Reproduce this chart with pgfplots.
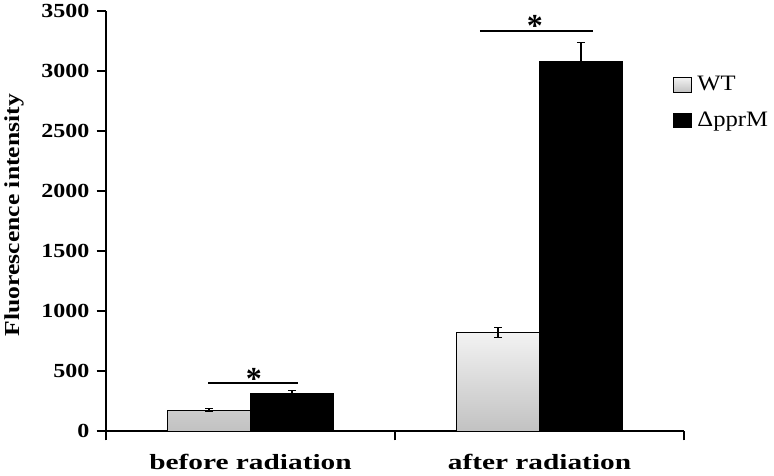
\documentclass[border=0pt]{standalone}
\usepackage{fontspec}
\setmainfont{Liberation Serif}
\newfontfamily\widefont{Liberation Serif}[FakeStretch=1.35]
\newfontfamily\tickfont{Liberation Serif}[FakeStretch=1.2]
\newfontfamily\legfont{Liberation Serif}[FakeStretch=1.12]
\usepackage{pgfplots}
\pgfplotsset{compat=1.18}

\pgfplotsset{
  sqlegend/.style={legend image code/.code={
    \draw[##1, draw=black, line width=0.6pt] (0pt,-5.5pt) rectangle (13.5pt,5.5pt);}},
}

\begin{document}
\begin{tikzpicture}
\begin{axis}[
    scale only axis,
    width=433.5pt, height=315pt,
    ybar=0pt, bar width=0.287,
    xmin=-0.5, xmax=1.5,
    ymin=0, ymax=3500,
    axis lines*=left,
    axis line style={line width=1.5pt},
    tick align=outside,
    major tick length=7pt,
    tick style={line width=1.5pt, black},
    xtick={-0.5,0.5,1.5}, xticklabels={},
    extra x ticks={0,1},
    extra x tick labels={before radiation, after radiation},
    extra x tick style={tick style={draw=none}},
    ytick={0,500,...,3500},
    /pgf/number format/assume math mode=true,
    /pgf/number format/1000 sep={},
    yticklabel style={font=\tickfont\bfseries\fontsize{15}{15}\selectfont, xshift=-2pt},
    xticklabel style={font=\widefont\bfseries\fontsize{16.3}{16.3}\selectfont, yshift=-7pt},
    ylabel={Fluorescence intensity},
    ylabel style={at={(axis description cs:-0.159,0.514)}, anchor=center,
        font=\tickfont\bfseries\fontsize{16}{16}\selectfont},
    legend style={at={(rel axis cs:0.981,0.851)}, anchor=north west,
        draw=none, fill=none, inner xsep=0pt, inner ysep=0pt,
        row sep=10.5pt, font=\legfont\fontsize{16.5}{16.5}\selectfont,
        /tikz/every odd column/.append style={column sep=2pt}},
    legend cell align=left,
    clip=false,
]
\addplot[top color=gray!10, bottom color=gray!48, draw=black, line width=0.6pt, sqlegend,
    error bars/.cd, y dir=both, y explicit,
    error bar style={line width=1pt, black},
    error mark options={rotate=90, mark size=3pt, line width=1pt, black}]
    coordinates {(0,175) +- (0,10) (1,822) +- (0,42)};
\addlegendentry{WT}
\addplot[fill=black, draw=black, line width=0.6pt, sqlegend,
    error bars/.cd, y dir=both, y explicit,
    error bar style={line width=1pt, black},
    error mark options={rotate=90, mark size=3pt, line width=1pt, black}]
    coordinates {(0,314) +- (0,25) (1,3077) +- (0,162)};
\addlegendentry{ΔpprM}

\draw[line width=1.5pt] (axis cs:-0.147,402) -- (axis cs:0.164,402);
\node[font=\fontsize{24}{24}\selectfont\bfseries] at (axis cs:0.012,435) {*};
\draw[line width=1.5pt] (axis cs:0.794,3336) -- (axis cs:1.185,3336);
\node[font=\fontsize{24}{24}\selectfont\bfseries] at (axis cs:0.984,3376) {*};
\end{axis}
\pgfresetboundingbox
\path (-79.5pt,-33pt) rectangle (501pt,323.25pt);
\end{tikzpicture}
\end{document}
